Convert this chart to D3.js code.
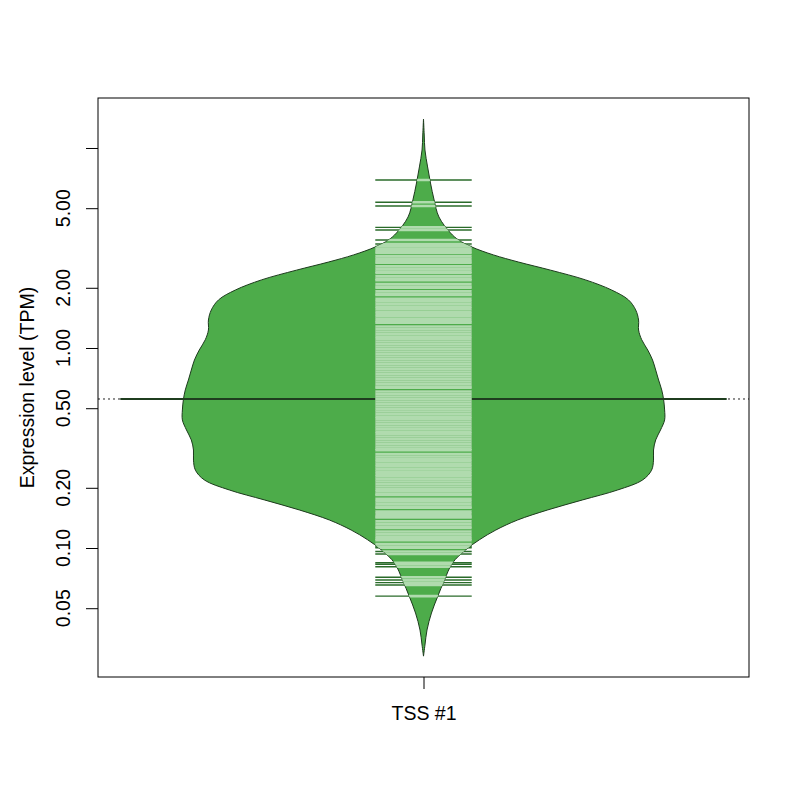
<!DOCTYPE html>
<html>
<head>
<meta charset="utf-8">
<script src="https://cdn.jsdelivr.net/npm/d3@7"></script>
<style>
  body { margin: 0; background: #fff; }
  text { font-family: "Liberation Sans", Arial, sans-serif; }
</style>
</head>
<body>
<script>

// bean outline: expression level (TPM) and relative density (half width, max = 1)
var beanValues = [13.96, 11.61, 9.77, 8.04, 6.68, 5.50, 4.52, 3.76, 3.47, 3.20, 2.92, 2.69,
    2.45, 2.19, 1.95, 1.74, 1.55, 1.38, 1.23, 1.10, 0.977, 0.871, 0.776, 0.692, 0.617,
    0.550, 0.490, 0.437, 0.389, 0.347, 0.309, 0.275, 0.245, 0.219, 0.195, 0.174, 0.155,
    0.138, 0.123, 0.110, 0.0977, 0.0841, 0.0692, 0.0569, 0.0473, 0.0389, 0.0327, 0.0288];
var beanWidths = [0, 0.003, 0.006, 0.017, 0.029, 0.044, 0.064, 0.112, 0.145, 0.2, 0.29, 0.394,
    0.527, 0.672, 0.78, 0.85, 0.88, 0.892, 0.892, 0.905, 0.93, 0.95, 0.963, 0.975, 0.988,
    0.996, 1, 1, 0.983, 0.963, 0.954, 0.954, 0.946, 0.909, 0.805, 0.66, 0.515,
    0.39, 0.30, 0.232, 0.174, 0.12, 0.087, 0.058, 0.033, 0.0145, 0.006, 0];

// one bean line per observation (TPM)
var tpmValues = [6.92, 5.35, 5.13, 4.01, 3.89, 3.47, 3.31, 3.22, 3.13, 3.04, 2.99, 2.87,
    2.79, 2.71, 2.67, 2.56, 2.48, 2.41, 2.37, 2.28, 2.21, 2.18, 2.09, 2.03, 2.00, 1.92,
    1.86, 1.84, 1.76, 1.71, 1.66, 1.61, 1.57, 1.52, 1.48, 1.44, 1.40, 1.36, 1.34, 1.28,
    1.245, 1.21, 1.175, 1.14, 1.11, 1.078, 1.047, 1.017, 0.989, 0.960, 0.933, 0.907,
    0.881, 0.856, 0.832, 0.808, 0.785, 0.763, 0.741, 0.720, 0.700, 0.680, 0.661, 0.642,
    0.633, 0.606, 0.589, 0.572, 0.556, 0.540, 0.525, 0.510, 0.495, 0.481, 0.468, 0.454,
    0.442, 0.429, 0.417, 0.405, 0.394, 0.382, 0.372, 0.361, 0.351, 0.341, 0.331, 0.322,
    0.313, 0.308, 0.295, 0.287, 0.279, 0.271, 0.263, 0.256, 0.248, 0.241, 0.234, 0.228,
    0.221, 0.215, 0.209, 0.203, 0.197, 0.192, 0.186, 0.184, 0.176, 0.171, 0.166, 0.161,
    0.159, 0.152, 0.148, 0.144, 0.142, 0.136, 0.132, 0.128, 0.126, 0.121, 0.1175, 0.114,
    0.111, 0.1095, 0.1047, 0.1017, 0.1003, 0.0960, 0.0933, 0.0844, 0.0829, 0.0806,
    0.0714, 0.0692, 0.0671, 0.0653, 0.0575];

var beanAverage = 0.556;
var overallAverage = 0.556;

var yTicks = [10, 5, 2, 1, 0.5, 0.2, 0.1, 0.05];
var yTickLabels = ['', '5.00', '2.00', '1.00', '0.50', '0.20', '0.10', '0.05'];
var groupLabel = 'TSS #1';

var margin = { top: 98, right: 51, bottom: 123, left: 98 };
var W = 800, H = 800;
var w = W - margin.left - margin.right,
    h = H - margin.top - margin.bottom;
var fontSize = 19.5;

var svg = d3.select('body').append('svg')
    .attr('width', W)
    .attr('height', H)
    .append('g')
    .attr('transform', translation(margin.left, margin.top));

// SCALES
var xScale = d3.scaleLinear().domain([0.46, 1.54]).range([0, w]);
var yScale = d3.scaleLog().domain([0.02265, 17.78]).range([h, 0]);
var widthScale = d3.scaleLinear().domain([0, 1]).range([0, xScale(1.4) - xScale(1)]);

var bean = beanValues.map(function (v, i) { return { v: v, w: beanWidths[i] }; });

var beanArea = d3.area()
    .curve(d3.curveCatmullRom)
    .y(function (d) { return yScale(d.v); })
    .x0(function (d) { return xScale(1) - widthScale(d.w); })
    .x1(function (d) { return xScale(1) + widthScale(d.w); });

svg.append('clipPath').attr('id', 'beanClip')
    .append('path').attr('d', beanArea(bean));

// overall average (dotted across the plot)
svg.append('line')
    .attr('x1', 0).attr('x2', w)
    .attr('y1', yScale(overallAverage)).attr('y2', yScale(overallAverage))
    .attr('stroke', '#222')
    .attr('stroke-width', 1)
    .attr('stroke-dasharray', '2,3');

// bean
svg.append('path')
    .attr('d', beanArea(bean))
    .attr('fill', '#4DAC4A')
    .attr('stroke', '#1c3a1c')
    .attr('stroke-width', 1);

// bean average
svg.append('line')
    .attr('x1', xScale(0.497)).attr('x2', xScale(1.503))
    .attr('y1', yScale(beanAverage)).attr('y2', yScale(beanAverage))
    .attr('stroke', '#1f3d1f')
    .attr('stroke-width', 2.2);

// bean lines: dark outside the bean, light inside
var lineX1 = xScale(1 - 0.08), lineX2 = xScale(1 + 0.08);

svg.append('g').selectAll('line')
    .data(tpmValues).enter().append('line')
    .attr('x1', lineX1).attr('x2', lineX2)
    .attr('y1', function (d) { return yScale(d); })
    .attr('y2', function (d) { return yScale(d); })
    .attr('stroke', '#2a6b2a')
    .attr('stroke-width', 1.4);

svg.append('g').attr('clip-path', 'url(#beanClip)')
    .selectAll('line')
    .data(tpmValues).enter().append('line')
    .attr('x1', lineX1).attr('x2', lineX2)
    .attr('y1', function (d) { return yScale(d); })
    .attr('y2', function (d) { return yScale(d); })
    .attr('stroke', '#b0dbae')
    .attr('stroke-width', 2.6);

// AXES
var yAxis = d3.axisLeft(yScale)
    .tickValues(yTicks)
    .tickSize(12)
    .tickFormat('');
var ya = svg.append('g').call(yAxis);
ya.select('.domain').remove();
ya.selectAll('line').attr('stroke', '#000');

svg.append('g').selectAll('text')
    .data(yTicks).enter().append('text')
    .attr('transform', function (d) { return translation(-28, yScale(d)) + 'rotate(-90)'; })
    .attr('text-anchor', 'middle')
    .attr('font-size', fontSize)
    .text(function (d, i) { return yTickLabels[i]; });

var xAxis = d3.axisBottom(d3.scalePoint().domain([groupLabel]).range([xScale(1), xScale(1)]))
    .tickSize(12)
    .tickPadding(17);
var xa = svg.append('g').attr('transform', translation(0, h)).call(xAxis);
xa.select('.domain').remove();
xa.selectAll('line').attr('stroke', '#000');
xa.selectAll('text')
    .attr('font-size', fontSize)
    .attr('font-family', '"Liberation Sans", Arial, sans-serif')
    .attr('fill', '#000');

// frame
svg.append('rect')
    .attr('x', 0).attr('y', 0)
    .attr('width', w).attr('height', h)
    .attr('fill', 'none')
    .attr('stroke', '#000')
    .attr('stroke-width', 1);

// y title
svg.append('text')
    .attr('transform', translation(-64, h / 2) + 'rotate(-90)')
    .attr('text-anchor', 'middle')
    .attr('font-size', fontSize)
    .text('Expression level (TPM)');

function translation(x, y) {
    return 'translate(' + x + ',' + y + ')';
}
</script>
</body>
</html>
